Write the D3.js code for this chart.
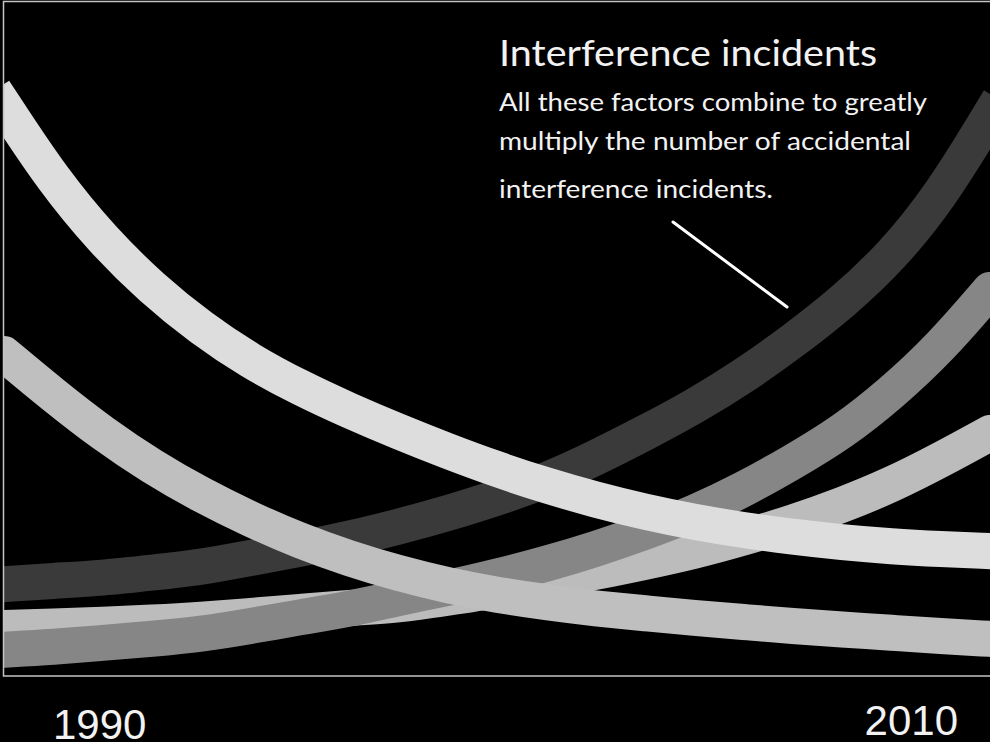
<!DOCTYPE html>
<html>
<head>
<meta charset="utf-8">
<script src="https://cdn.jsdelivr.net/npm/d3@7"></script>
<style>
  html, body { margin: 0; padding: 0; background: #000; }
  svg { display: block; }
</style>
</head>
<body>
<svg id="chart" width="990" height="742"></svg>
<script>
// ---- data ----
const years = d3.range(1990, 2011); // 1990 .. 2010
const tickLabels = ["1990", "2010"];
// series values (arbitrary index 0-100)
const seriesA = [84.5,73.4,64.6,57.4,51.5,46.6,42.7,39.3,36.2,33.3,30.6,28.2,26.1,24.3,22.8,21.6,20.6,19.8,19.2,18.8,18.5];
const seriesB = [47.7,41.6,35.9,31.0,26.8,23.2,20.0,17.4,15.2,13.4,12.0,10.9,10.0,9.3,8.6,8.0,7.4,6.9,6.4,5.9,5.5];
const seriesC = [13.6,14.1,14.5,15.3,16.1,17.5,18.8,20.3,22.1,24.1,26.4,28.9,32.3,36.0,39.9,44.4,49.6,55.3,62.1,71.1,83.1];
const seriesD = [3.9,4.3,4.9,5.5,6.2,7.4,8.7,9.9,11.6,13.0,14.7,16.6,18.8,21.3,24.1,27.6,31.7,36.1,41.9,48.7,57.2];
const seriesE = [7.1,7.3,7.6,7.9,8.3,8.9,9.5,10.1,10.5,11.6,12.7,14.1,15.4,16.9,18.5,20.5,22.7,25.3,28.3,32.0,36.0];
const titleText = "Interference incidents";
const bodyLines = ["All these factors combine to greatly", "multiply the number of accidental", "interference incidents."];

// ---- layout ----
const svg = d3.select("#chart");
const plotL = 4, plotR = 990, plotT = 1, plotB = 676;
const x = d3.scaleLinear().domain([1990, 2010]).range([plotL, plotR]);
const y = d3.scaleLinear().domain([0, 100]).range([plotB, plotT]);

svg.append("rect").attr("width", 990).attr("height", 742).attr("fill", "#000");

svg.append("defs").append("clipPath").attr("id", "plotclip")
  .append("rect").attr("x", plotL).attr("y", plotT + 1).attr("width", plotR - plotL + 10).attr("height", plotB - plotT - 1);

const line = d3.line().x(d => x(d.year)).y(d => y(d.v)).curve(d3.curveBasis);
const toPts = arr => arr.map((v, i) => ({year: years[i], v}));

// draw order: bottom to top
const bands = [
  {data: seriesC, color: "#3a3a3a", cap: "square"},
  {data: seriesE, color: "#bcbcbc", cap: "round"},
  {data: seriesD, color: "#868686", cap: "round"},
  {data: seriesB, color: "#bfbfbf", cap: "round"},
  {data: seriesA, color: "#dddddd", cap: "square"}
];

const g = svg.append("g").attr("clip-path", "url(#plotclip)");
g.selectAll("path.band").data(bands).join("path")
  .attr("class", "band")
  .attr("d", d => line(toPts(d.data)))
  .attr("fill", "none")
  .attr("stroke", d => d.color)
  .attr("stroke-width", 36)
  .attr("stroke-linecap", d => d.cap);

// frame
svg.append("path")
  .attr("d", `M${plotR + 5},${plotT + 0.5} H${plotL - 0.5} V${plotB} H${plotR + 5}`)
  .attr("fill", "none")
  .attr("stroke", "#c4c4c4")
  .attr("stroke-width", 1.5);

// annotation text
svg.append("text")
  .attr("x", 499).attr("y", 66)
  .attr("font-family", "Lato, 'Open Sans', sans-serif")
  .attr("font-size", 37)
  .attr("fill", "#f2f2f2")
  .attr("textLength", 378)
  .attr("lengthAdjust", "spacingAndGlyphs")
  .text(titleText);

const bodyY = [111, 150, 198];
const bodyW = [428, 412, 274];
svg.selectAll("text.body").data(bodyLines).join("text")
  .attr("class", "body")
  .attr("x", 499)
  .attr("y", (d, i) => bodyY[i])
  .attr("font-family", "Lato, 'Open Sans', sans-serif")
  .attr("font-size", 25.5)
  .attr("fill", "#f2f2f2")
  .attr("textLength", (d, i) => bodyW[i])
  .attr("lengthAdjust", "spacingAndGlyphs")
  .text(d => d);

// callout line
svg.append("line")
  .attr("x1", 673).attr("y1", 222).attr("x2", 787).attr("y2", 307)
  .attr("stroke", "#ffffff").attr("stroke-width", 3).attr("stroke-linecap", "round");

// year labels
svg.append("text").attr("x", 53).attr("y", 739)
  .attr("font-family", "'Liberation Sans', Arial, sans-serif")
  .attr("font-size", 42).attr("fill", "#f2f2f2")
  .text(tickLabels[0]);
svg.append("text").attr("x", 958).attr("y", 735)
  .attr("text-anchor", "end")
  .attr("font-family", "'Liberation Sans', Arial, sans-serif")
  .attr("font-size", 42).attr("fill", "#f2f2f2")
  .text(tickLabels[1]);
</script>
</body>
</html>
